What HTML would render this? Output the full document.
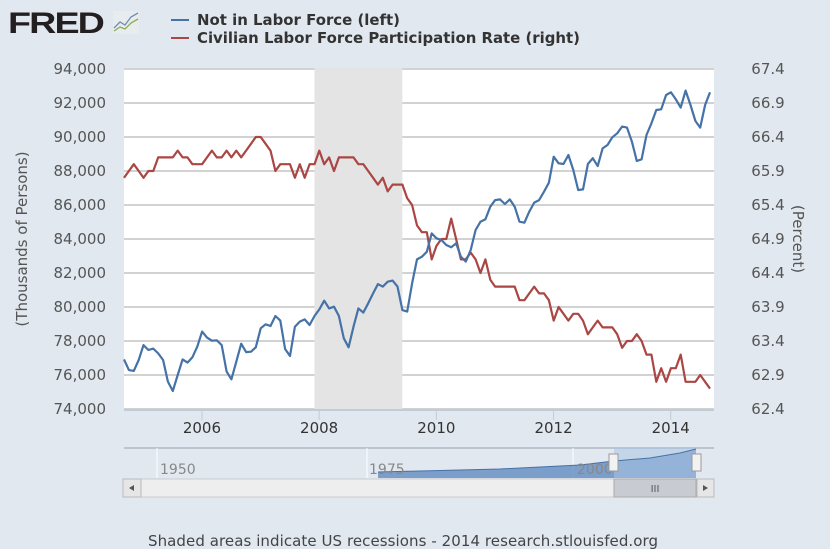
<!DOCTYPE html>
<html><head><meta charset="utf-8"><style>
body{margin:0;width:830px;height:549px;background:#e1e8f0;font-family:"DejaVu Sans","Liberation Sans",sans-serif;overflow:hidden;position:relative}
svg{position:absolute;left:0;top:0;font-family:"DejaVu Sans","Liberation Sans",sans-serif}
</style></head><body>
<svg id="c" width="830" height="549">
 <g>
  <text x="8" y="33" font-size="30" font-weight="bold" fill="#231f20" letter-spacing="-1.5" font-family="Liberation Sans, sans-serif" textLength="95" lengthAdjust="spacingAndGlyphs">FRED</text>
  <rect x="113" y="11" width="26" height="23" fill="#e8ecef"/>
  <polyline points="114,28 120,22 125,25 131,17 138,13" fill="none" stroke="#6f8fb0" stroke-width="1.3"/>
  <polyline points="114,31 120,27 125,29 131,23 138,19" fill="none" stroke="#8cae4a" stroke-width="1.3"/>
 </g>
 <g>
  <line x1="171" y1="20" x2="189" y2="20" stroke="#4572a7" stroke-width="2"/>
  <text x="197" y="25" font-size="15" font-weight="bold" fill="#333" textLength="203" lengthAdjust="spacingAndGlyphs">Not in Labor Force (left)</text>
  <line x1="171" y1="38" x2="189" y2="38" stroke="#aa4643" stroke-width="2"/>
  <text x="197" y="43" font-size="15" font-weight="bold" fill="#333" textLength="383" lengthAdjust="spacingAndGlyphs">Civilian Labor Force Participation Rate (right)</text>
 </g>
 <rect x="124" y="68" width="590" height="342" fill="#fff"/>
 <g id="grid"></g><g id="rec"></g><g id="axes"></g><g id="series"></g>
 <text transform="translate(27,239) rotate(-90)" text-anchor="middle" font-size="15" fill="#555">(Thousands of Persons)</text>
 <text transform="translate(793,239) rotate(90)" text-anchor="middle" font-size="15" fill="#555">(Percent)</text>
 <g>
  <line x1="124" y1="448" x2="714" y2="448" stroke="#b0b8c0" stroke-width="1.5"/>
  <line x1="157" y1="448" x2="157" y2="478" stroke="#fff"/>
  <line x1="367" y1="448" x2="367" y2="478" stroke="#fff"/>
  <line x1="573" y1="448" x2="573" y2="478" stroke="#fff"/>
  <polygon points="378,478 378,472 420,471 460,470 500,469 540,467 580,465 614,461 650,458 680,453 696,449 696,478" fill="#5a86bd" opacity="0.75"/>
  <rect x="614" y="448" width="82" height="30" fill="#a9c4e4" opacity="0.55"/>
  <polyline points="378,472 420,471 460,470 500,469 540,467 580,465 614,461 650,458 680,453 696,449" fill="none" stroke="#4572a7" stroke-width="1"/>
  <text x="160" y="474" font-size="14" fill="#888">1950</text>
  <text x="369" y="474" font-size="14" fill="#888">1975</text>
  <text x="577" y="474" font-size="14" fill="#888">2000</text>
  <rect x="609" y="454" width="9" height="17" fill="#f2f2f2" stroke="#999"/>
  <rect x="692" y="454" width="9" height="17" fill="#f2f2f2" stroke="#999"/>
 </g>
 <g>
  <rect x="123" y="479" width="591" height="18" fill="#eeeeee" stroke="#ccc"/>
  <rect x="123" y="479" width="18" height="18" fill="#e6e6e6" stroke="#bbb"/>
  <path d="M134,485 L129,488 L134,491Z" fill="#555"/>
  <rect x="614" y="479" width="82" height="18" fill="#c8ccd2" stroke="#aaa"/>
  <text x="655" y="492" font-size="10" text-anchor="middle" fill="#555">III</text>
  <rect x="697" y="479" width="17" height="18" fill="#e6e6e6" stroke="#bbb"/>
  <path d="M703,485 L708,488 L703,491Z" fill="#555"/>
 </g>
 <text x="403" y="546" text-anchor="middle" font-size="15" fill="#444" textLength="510">Shaded areas indicate US recessions - 2014 research.stlouisfed.org</text>
</svg>
<script>
const leftTicks=[74000,76000,78000,80000,82000,84000,86000,88000,90000,92000,94000];
const rightTicks=[62.4,62.9,63.4,63.9,64.4,64.9,65.4,65.9,66.4,66.9,67.4];
const yearTicks=[2006,2008,2010,2012,2014];
const recessionStart=2007.92, recessionEnd=2009.42;
const startDate=2004.67; // Sep 2004, monthly series
const nilf=[76.92,76.29,76.24,76.88,77.76,77.47,77.55,77.27,76.88,75.61,75.06,76.0,76.92,76.73,77.04,77.67,78.55,78.2,78.02,78.04,77.76,76.2,75.75,76.78,77.84,77.35,77.37,77.63,78.75,78.98,78.88,79.47,79.2,77.53,77.12,78.84,79.14,79.27,78.94,79.47,79.86,80.37,79.92,80.02,79.47,78.16,77.63,78.84,79.92,79.67,80.22,80.8,81.35,81.2,81.49,81.55,81.2,79.82,79.73,81.39,82.8,82.96,83.25,84.33,84.04,83.94,83.65,83.51,83.75,82.96,82.67,83.35,84.53,85.02,85.16,85.9,86.29,86.33,86.06,86.33,85.9,85.02,84.96,85.61,86.14,86.29,86.78,87.31,88.84,88.45,88.41,88.94,88.06,86.88,86.92,88.41,88.75,88.29,89.33,89.53,89.98,90.22,90.61,90.55,89.73,88.59,88.69,90.12,90.8,91.59,91.63,92.47,92.63,92.22,91.73,92.73,91.88,90.94,90.55,91.88,92.63];
const civpart=[65.8,65.9,66.0,65.9,65.8,65.9,65.9,66.1,66.1,66.1,66.1,66.2,66.1,66.1,66.0,66.0,66.0,66.1,66.2,66.1,66.1,66.2,66.1,66.2,66.1,66.2,66.3,66.4,66.4,66.3,66.2,65.9,66.0,66.0,66.0,65.8,66.0,65.8,66.0,66.0,66.2,66.0,66.1,65.9,66.1,66.1,66.1,66.1,66.0,66.0,65.9,65.8,65.7,65.8,65.6,65.7,65.7,65.7,65.5,65.4,65.1,65.0,65.0,64.6,64.8,64.9,64.9,65.2,64.9,64.6,64.6,64.7,64.6,64.4,64.6,64.3,64.2,64.2,64.2,64.2,64.2,64.0,64.0,64.1,64.2,64.1,64.1,64.0,63.7,63.9,63.8,63.7,63.8,63.8,63.7,63.5,63.6,63.7,63.6,63.6,63.6,63.5,63.3,63.4,63.4,63.5,63.4,63.2,63.2,62.8,63.0,62.8,63.0,63.0,63.2,62.8,62.8,62.8,62.9,62.8,62.7];

const NS='http://www.w3.org/2000/svg';
const X0=124,X1=714,Y0=69,Y1=409;
const xScale=t=>X0+(t-startDate)*58.6;
const yL=v=>Y1-(v-74000)/20000*(Y1-Y0);
const yR=v=>Y1-(v-62.4)/5*(Y1-Y0);
function mk(tag,attrs,parent){const e=document.createElementNS(NS,tag);for(const k in attrs)e.setAttribute(k,attrs[k]);parent.appendChild(e);return e;}
const grid=document.getElementById('grid'),axes=document.getElementById('axes'),rec=document.getElementById('rec'),ser=document.getElementById('series');
leftTicks.forEach((v,i)=>{
  const y=yL(v);
  const l=mk('line',{x1:X0,x2:X1,y1:y,y2:y,stroke:'#c4c4c4','stroke-width':1.5},grid);
  
  
  const t=mk('text',{x:106,y:y+5,'text-anchor':'end','font-size':15,fill:'#555'},axes);
  t.textContent=v.toLocaleString('en-US');
  
  
});
rightTicks.forEach(v=>{
  const t=mk('text',{x:768,y:yR(v)+5,'text-anchor':'middle','font-size':15,fill:'#555'},axes);
  t.textContent=v.toFixed(1);
  
  
});
const r=mk('rect',{x:xScale(recessionStart),y:68,width:xScale(recessionEnd)-xScale(recessionStart),height:342,fill:'#e4e4e4'},rec);


const ax=mk('line',{x1:X0,x2:X1,y1:410,y2:410,stroke:'#c0ccd8','stroke-width':2},axes);


yearTicks.forEach(yr=>{
  const x=xScale(yr);
  mk('line',{x1:x,x2:x,y1:410,y2:420,stroke:'#c0ccd8'},axes);
  const t=mk('text',{x:x,y:433,'text-anchor':'middle','font-size':15,fill:'#333'},axes);
  t.textContent=yr;
  
  
});
function line(arr,fy,color,name){
  const pts=arr.map((v,i)=>xScale(startDate+i/12).toFixed(1)+','+fy(v).toFixed(1)).join(' ');
  const p=mk('polyline',{points:pts,fill:'none',stroke:color,'stroke-width':2.2,'stroke-linejoin':'round'},ser);
  
  
}
line(civpart,yR,'#aa4643','civpart-line');
line(nilf,v=>yL(v*1000),'#4572a7','nilf-line');
</script>
</body></html>
